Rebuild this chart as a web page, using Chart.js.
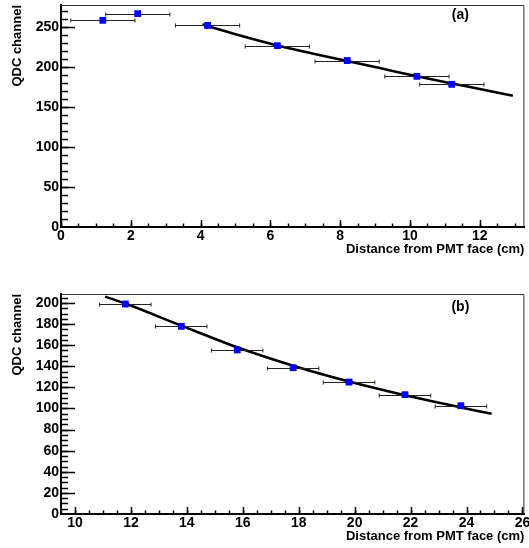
<!DOCTYPE html>
<html>
<head>
<meta charset="utf-8">
<script src="https://cdn.jsdelivr.net/npm/chart.js@4.4.0/dist/chart.umd.min.js"></script>
<style>
  html, body { margin: 0; padding: 0; background: #fff; }
  #wrap { position: relative; width: 529px; height: 548px; }
  canvas { position: absolute; left: 0; }
  #chart-a { top: 0; }
  #chart-b { top: 261px; }
</style>
</head>
<body>
<div id="wrap">
  <canvas id="chart-a" width="529" height="261"></canvas>
  <canvas id="chart-b" width="529" height="287"></canvas>
</div>
<script>
// ---- panel (a) data ----
const distA = [1.2, 2.2, 4.2, 6.2, 8.2, 10.2, 11.2];
const qdcA = [258.5, 266.5, 252, 226.5, 208, 188.5, 178.5];
const errA = [0.92, 0.92, 0.92, 0.92, 0.92, 0.92, 0.92];
const fitXA = [4.05, 5.0, 6.2, 7.2, 8.2, 9.2, 10.2, 11.2, 12.0, 12.95];
const fitYA = [253, 241, 227, 217, 207.5, 198, 188.5, 179.5, 172.5, 164];

// ---- panel (b) data ----
const distB = [11.8, 13.8, 15.8, 17.8, 19.8, 21.8, 23.8];
const qdcB = [199, 178, 155.5, 138.5, 125, 113, 102.5];
const errB = [0.92, 0.92, 0.92, 0.92, 0.92, 0.92, 0.92];
const fitXB = [11.08, 11.8, 13.8, 15.8, 17.8, 19.8, 21.8, 23.8, 24.9];
const fitYB = [206, 199.5, 178.5, 158, 140.5, 125.5, 112.5, 101, 95];

const FONT = "'Liberation Sans', Arial, Helvetica, sans-serif";

/**
 * 橫向誤差棒 + ROOT 風格內側刻度 + 外框
 */
const rootStyle = {
  id: 'rootStyle',
  afterDatasetsDraw(chart, args, opts) {
    const ctx = chart.ctx;
    const xs = chart.scales.x;
    const ys = chart.scales.y;
    const area = chart.chartArea;
    ctx.save();

    // 外框（上、右）
    ctx.strokeStyle = '#333';
    ctx.lineWidth = 1;
    ctx.beginPath();
    ctx.moveTo(area.left, area.top + 0.5);
    ctx.lineTo(area.right - 0.5, area.top + 0.5);
    ctx.lineTo(area.right - 0.5, area.bottom);
    ctx.stroke();

    // 誤差棒
    const meta = chart.getDatasetMeta(1);
    const ds = chart.data.datasets[1];
    ctx.strokeStyle = '#222';
    ctx.lineWidth = 1;
    ds.data.forEach((p, i) => {
      const y = Math.round(ys.getPixelForValue(p.y)) + 0.5;
      const x1 = xs.getPixelForValue(p.x - opts.err[i]);
      const x2 = xs.getPixelForValue(p.x + opts.err[i]);
      ctx.beginPath();
      ctx.moveTo(x1, y); ctx.lineTo(x2, y);
      ctx.moveTo(x1, y - 2); ctx.lineTo(x1, y + 2);
      ctx.moveTo(x2, y - 2); ctx.lineTo(x2, y + 2);
      ctx.stroke();
    });
    // 重畫點，讓方塊蓋在誤差棒上
    meta.data.forEach(el => el.draw(ctx, area));

    // 內側刻度
    ctx.strokeStyle = '#000';
    ctx.lineWidth = 1.5;
    const drawX = (v, len) => {
      const px = Math.round(xs.getPixelForValue(v)) + 0.5;
      if (px < area.left || px > area.right) return;
      ctx.beginPath();
      ctx.moveTo(px, area.bottom);
      ctx.lineTo(px, area.bottom - len);
      ctx.stroke();
    };
    const drawY = (v, len) => {
      const py = Math.round(ys.getPixelForValue(v)) + 0.5;
      if (py < area.top || py > area.bottom) return;
      ctx.beginPath();
      ctx.moveTo(area.left, py);
      ctx.lineTo(area.left + len, py);
      ctx.stroke();
    };
    for (let v = Math.ceil(xs.min / opts.xMinor) * opts.xMinor; v <= xs.max; v += opts.xMinor) drawX(v, 3.5);
    xs.ticks.forEach(t => drawX(t.value, 7));
    for (let v = 0; v <= ys.max; v += opts.yMinor) drawY(v, 7);
    ys.ticks.forEach(t => drawY(t.value, 14));

    // 面板標籤
    ctx.fillStyle = '#000';
    ctx.font = 'bold 14px ' + FONT;
    ctx.textAlign = 'center';
    ctx.textBaseline = 'middle';
    ctx.fillText(opts.label, area.right - 64, area.top + opts.labelDy);

    ctx.restore();
  }
};

function makePanel(canvasId, cfg) {
  const canvas = document.getElementById(canvasId);
  return new Chart(canvas, {
    type: 'scatter',
    data: {
      datasets: [
        {
          type: 'line',
          data: cfg.fitX.map((x, i) => ({ x: x, y: cfg.fitY[i] })),
          borderColor: '#000',
          borderWidth: 2.6,
          pointRadius: 0,
          cubicInterpolationMode: 'monotone',
          fill: false,
          order: 2
        },
        {
          data: cfg.dist.map((x, i) => ({ x: x, y: cfg.qdc[i] })),
          backgroundColor: '#0000ff',
          borderColor: '#0000ff',
          borderWidth: 0,
          pointStyle: 'rect',
          pointRadius: 4.6,
          order: 1
        }
      ]
    },
    options: {
      responsive: false,
      animation: false,
      devicePixelRatio: 1,
      layout: { padding: { top: cfg.padTop, right: 1, left: 0, bottom: 0 } },
      plugins: {
        legend: { display: false },
        tooltip: { enabled: false },
        rootStyle: { err: cfg.err, xMinor: 0.5, yMinor: cfg.yMinor, label: cfg.label, labelDy: cfg.labelDy }
      },
      scales: {
        x: {
          type: 'linear',
          min: cfg.xMin,
          max: cfg.xMax,
          grid: { display: false, drawTicks: false },
          border: { display: true, color: '#000', width: 2 },
          ticks: {
            stepSize: 2,
            includeBounds: false,
            padding: 1,
            maxRotation: 0,
            autoSkip: false,
            color: '#000',
            font: { family: FONT, size: 14, weight: 'bold' }
          },
          title: {
            display: true,
            text: 'Distance from PMT face (cm)',
            align: 'end',
            color: '#000',
            padding: { top: 0, bottom: 4 },
            font: { family: FONT, size: 13, weight: 'bold' }
          },
          afterFit(scale) {
            scale.height = 34;
            scale.paddingLeft = 0;
            scale.paddingRight = 0;
          }
        },
        y: {
          type: 'linear',
          min: 0,
          max: cfg.yMax,
          grid: { display: false, drawTicks: false },
          border: { display: true, color: '#000', width: 2 },
          ticks: {
            stepSize: cfg.yStep,
            includeBounds: false,
            padding: 2,
            color: '#000',
            font: { family: FONT, size: 14, weight: 'bold' }
          },
          title: {
            display: true,
            text: 'QDC channel',
            align: 'end',
            color: '#000',
            padding: { top: 10, bottom: 0 },
            font: { family: FONT, size: 13, weight: 'bold' }
          },
          afterFit(scale) {
            scale.width = 61;
            scale.paddingTop = 0;
            scale.paddingBottom = 0;
          }
        }
      }
    },
    plugins: [rootStyle]
  });
}

makePanel('chart-a', {
  dist: distA, qdc: qdcA, err: errA, fitX: fitXA, fitY: fitYA,
  xMin: 0, xMax: 13.28, yMax: 277.5, yStep: 50, yMinor: 10,
  padTop: 5, label: '(a)', labelDy: 10
});

makePanel('chart-b', {
  dist: distB, qdc: qdcB, err: errB, fitX: fitXB, fitY: fitYB,
  xMin: 9.5, xMax: 26.07, yMax: 208.5, yStep: 20, yMinor: 5,
  padTop: 33, label: '(b)', labelDy: 13.5
});
</script>
</body>
</html>
